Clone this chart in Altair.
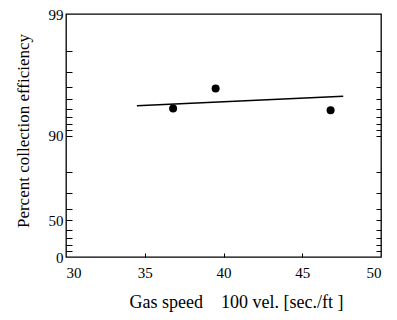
import altair as alt
import pandas as pd

# Data
speed = [36.8, 39.5, 46.8]
efficiency = [94.0, 95.9, 93.8]
fit_speed = [34.5, 47.6]
fit_efficiency = [94.3, 95.25]

x_label_values = [30, 35, 40, 45, 50]
x_tick_values = [35, 40, 45]
y_label_values = [99, 90, 50, 0]
y_tick_values = [98, 97, 96, 95, 94, 93, 92, 91, 90, 80, 70, 60, 50, 40, 30, 20, 10]

W, H = 315, 243
PAD_L, PAD_T, PAD_R, PAD_B = 58, 6, 8, 56
FONT = "Liberation Serif"

pts = pd.DataFrame({"speed": speed, "eff": efficiency})
fit = pd.DataFrame({"speed": fit_speed, "eff": fit_efficiency})

xscale = alt.Scale(domain=[30, 50], nice=False, zero=False)
yscale = alt.Scale(type="log", domain=[1, 100], reverse=True, nice=False)

miss_labels = [100 - v for v in y_label_values]
miss_ticks = [100 - v for v in y_tick_values]

common = dict(grid=False, labelFont=FONT, labelFontSize=15, labelColor="black",
              titleFont=FONT, titleColor="black",
              titleFontWeight="normal", tickColor="black", domain=False)

NB = "\u00a0"
x_title = "Gas speed" + NB * 4 + "100 vel. [sec./ft" + NB + "]"

points = alt.Chart(pts).transform_calculate(miss="100 - datum.eff").mark_circle(
    size=64, color="black", opacity=1
).encode(
    x=alt.X("speed:Q", scale=xscale,
            axis=alt.Axis(orient="bottom", values=x_label_values, ticks=False,
                          labelPadding=8, title=x_title, titleFontSize=18,
                          titleX=170, titleY=50, titleBaseline="alphabetic",
                          titleAlign="center", **common)),
    y=alt.Y("miss:Q", scale=yscale,
            axis=alt.Axis(orient="left", values=miss_labels, ticks=False,
                          labelPadding=3, labelExpr="'' + (100 - datum.value)",
                          title="Percent collection efficiency", titleFontSize=17,
                          titleX=-43, titleY=(257 - 8 - PAD_T) / 2 - 5, titleAngle=270,
                          titleAlign="center", titleBaseline="middle", **common)),
)

line = alt.Chart(fit).transform_calculate(miss="100 - datum.eff").mark_line(
    color="black", strokeWidth=1.5
).encode(
    x=alt.X("speed:Q", scale=xscale,
            axis=alt.Axis(orient="top", offset=-H, values=x_tick_values, labels=False,
                          tickSize=4, title=None, **common)),
    y=alt.Y("miss:Q", scale=yscale,
            axis=alt.Axis(orient="left", offset=-W, values=miss_ticks, labels=False,
                          tickSize=5, title=None, **common)),
)

ghost = alt.Chart(pts).transform_calculate(miss="100 - datum.eff").mark_circle(
    opacity=0
).encode(
    x=alt.X("speed:Q", scale=xscale, axis=None),
    y=alt.Y("miss:Q", scale=yscale,
            axis=alt.Axis(orient="right", offset=-W, values=miss_ticks, labels=False,
                          tickSize=6, title=None, **common)),
)

chart = alt.layer(points, line, ghost).resolve_axis(
    x="independent", y="independent"
).properties(
    width=W, height=H,
    autosize=alt.AutoSizeParams(type="none"),
    padding={"left": PAD_L, "top": PAD_T, "right": PAD_R, "bottom": PAD_B},
    background="white",
).configure_view(stroke="black", strokeWidth=1.3)

chart.save("out.html", embed_options={"renderer": "svg", "actions": False})
